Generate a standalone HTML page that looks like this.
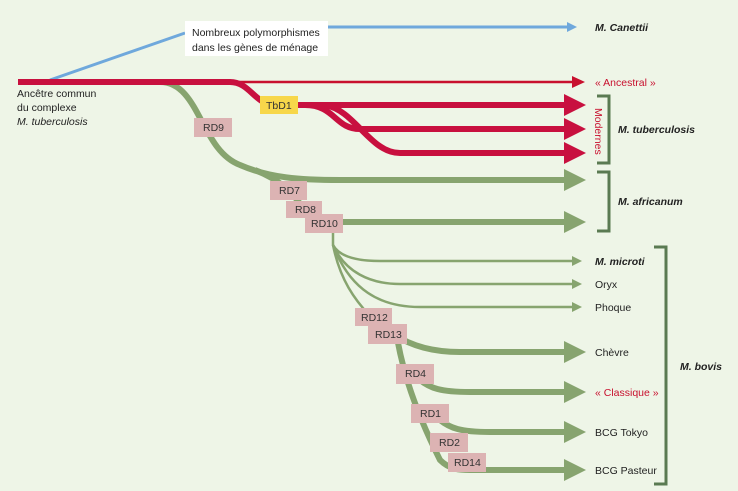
<!DOCTYPE html>
<html><head><meta charset="utf-8"><style>
body{margin:0;background:#eef5e7;}
svg{display:block;font-family:"Liberation Sans",sans-serif;}
.lb{font-size:10.5px;fill:#222;}
.bi{font-size:10.5px;fill:#222;font-style:italic;font-weight:bold;}
.rd{font-size:10.5px;fill:#333;}
</style></head><body>
<svg width="738" height="491" viewBox="0 0 738 491">
<rect width="738" height="491" fill="#eef5e7"/>
<g fill="none" stroke-linecap="butt">
<path d="M50 80 L185 33" stroke="#6fa8dc" stroke-width="3"/>
<path d="M328 27 L570 27" stroke="#6fa8dc" stroke-width="3"/>
<g stroke="#87a46f">
<path d="M160 82 C200 82 200 150 240 165 C270 178 300 180 340 180 L568 180" stroke-width="6"/>
<path d="M255 170 C280 180 290 190 305 210 C315 222 320 222 340 222 L568 222" stroke-width="6"/>
<path d="M333 222 L333 245 C340 258 360 261 380 261 L575 261" stroke-width="2.5"/>
<path d="M333 245 C345 272 370 284 400 284 L575 284" stroke-width="2.5"/>
<path d="M333 245 C350 290 380 307 420 307 L575 307" stroke-width="2.5"/>
<path d="M333 245 C340 280 355 300 370 316" stroke-width="2.5"/>
<path d="M395 325 C400 360 410 400 440 460 C450 470 460 470 470 470 L568 470" stroke-width="6"/>
<path d="M395 335 C410 345 430 352 460 352 L568 352" stroke-width="6"/>
<path d="M420 380 C430 388 440 392 470 392 L568 392" stroke-width="6"/>
<path d="M440 420 C450 428 460 432 490 432 L568 432" stroke-width="6"/>
</g>
<path d="M18 82 L575 82" stroke="#c8102e" stroke-width="2.5"/>
<path d="M18 82 L230 82 C250 82 255 105 275 105 L568 105" stroke="#c8103f" stroke-width="6"/>
<path d="M305 105 C335 105 335 129 360 129 L568 129" stroke="#c8103f" stroke-width="6"/>
<path d="M325 105 C355 110 370 153 400 153 L568 153" stroke="#c8103f" stroke-width="6"/>
</g>
<polygon points="567,22 577,27 567,32" fill="#6fa8dc"/>
<polygon points="572,76 585,82 572,88" fill="#c8102e"/>
<g fill="#c8103f">
<polygon points="564,94 586,105 564,116"/><polygon points="564,118 586,129 564,140"/><polygon points="564,142 586,153 564,164"/>
</g>
<g fill="#87a46f">
<polygon points="564,169 586,180 564,191"/><polygon points="564,211 586,222 564,233"/>
<polygon points="572,256 582,261 572,266"/><polygon points="572,279 582,284 572,289"/><polygon points="572,302 582,307 572,312"/>
<polygon points="564,341 586,352 564,363"/><polygon points="564,381 586,392 564,403"/><polygon points="564,421 586,432 564,443"/><polygon points="564,459 586,470 564,481"/>
</g>
<g fill="none" stroke="#5a7a52" stroke-width="3">
<path d="M597 96 L609 96 L609 163 L597 163"/>
<path d="M597 172 L609 172 L609 231 L597 231"/>
<path d="M654 247 L666 247 L666 484 L654 484"/>
</g>
<rect x="185" y="21" width="143" height="35" fill="#fff"/>
<text class="lb" x="192" y="36">Nombreux polymorphismes</text>
<text class="lb" x="192" y="51">dans les gènes de ménage</text>
<rect x="260" y="96" width="38" height="18" fill="#f7d74a"/><text class="rd" x="266" y="109">TbD1</text>
<g fill="#dcb3b3">
<rect x="194" y="118" width="38" height="19"/><rect x="270" y="181" width="37" height="19"/><rect x="286" y="201" width="36" height="17"/><rect x="305" y="214" width="38" height="19"/>
<rect x="355" y="308" width="37" height="18"/><rect x="368" y="324" width="39" height="20"/><rect x="396" y="364" width="38" height="20"/><rect x="411" y="404" width="38" height="19"/><rect x="430" y="433" width="38" height="19"/><rect x="448" y="453" width="38" height="19"/>
</g>
<g class="rd">
<text x="203" y="131">RD9</text><text x="279" y="194">RD7</text><text x="295" y="213">RD8</text><text x="311" y="227">RD10</text>
<text x="361" y="321">RD12</text><text x="375" y="338">RD13</text><text x="405" y="377">RD4</text><text x="420" y="417">RD1</text><text x="439" y="446">RD2</text><text x="454" y="466">RD14</text>
</g>
<text class="lb" x="17" y="97">Ancêtre commun</text>
<text class="lb" x="17" y="111">du complexe</text>
<text class="lb" x="17" y="125" font-style="italic">M. tuberculosis</text>
<text class="bi" x="595" y="31">M. Canettii</text>
<text class="lb" x="595" y="86" style="fill:#c8102e">« Ancestral »</text>
<text x="595" y="108" font-size="10.5" fill="#c8102e" transform="rotate(90 595 108)">Modernes</text>
<text class="bi" x="618" y="133">M. tuberculosis</text>
<text class="bi" x="618" y="205">M. africanum</text>
<text class="bi" x="595" y="265">M. microti</text>
<text class="lb" x="595" y="288">Oryx</text>
<text class="lb" x="595" y="311">Phoque</text>
<text class="lb" x="595" y="356">Chèvre</text>
<text class="lb" x="595" y="396" style="fill:#c8102e">« Classique »</text>
<text class="lb" x="595" y="436">BCG Tokyo</text>
<text class="lb" x="595" y="474">BCG Pasteur</text>
<text class="bi" x="680" y="370">M. bovis</text>
</svg>
</body></html>
